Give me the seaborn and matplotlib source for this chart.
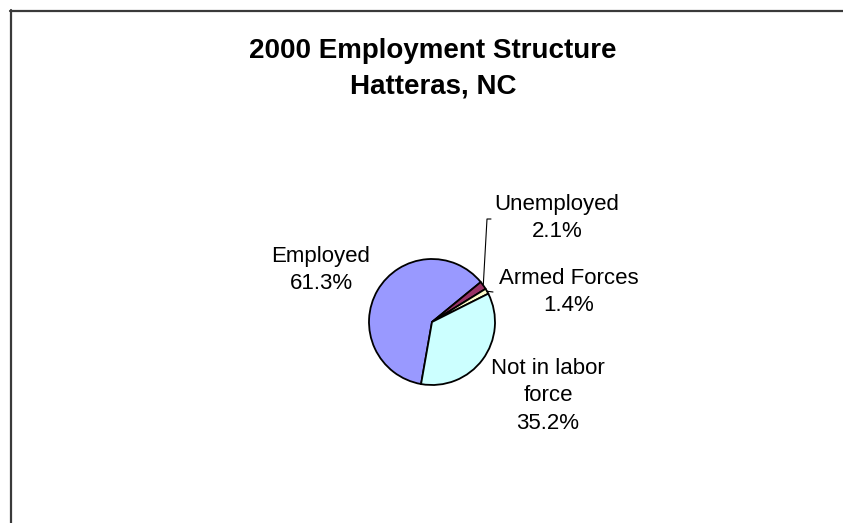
import matplotlib
matplotlib.use("Agg")
import matplotlib.pyplot as plt
from matplotlib.lines import Line2D
import numpy as np
import seaborn as sns

# Employment structure, Hatteras NC, 2000 census
categories = ["Employed", "Unemployed", "Armed Forces", "Not in labor force"]
label_texts = ["Employed", "Unemployed", "Armed Forces", "Not in labor\nforce"]
shares = [61.3, 2.1, 1.4, 35.2]
slice_colors = ["#9999FF", "#993366", "#FFFFCC", "#CCFFFF"]

W, H = 843, 523
sns.set_theme(style="white")
plt.rcParams["font.family"] = ["Liberation Sans", "DejaVu Sans"]

palette = sns.color_palette(slice_colors)

fig = plt.figure(figsize=(W / 100, H / 100), dpi=100)
fig.patch.set_facecolor("white")
ax = fig.add_axes([0, 0, 1, 1])


def py(y):
    """Convert a top-down pixel row into the axes' bottom-up coordinate."""
    return H - y


cx, cy, r = 432, py(322), 63
wedges, _ = ax.pie(
    shares,
    colors=palette,
    startangle=-100,
    counterclock=False,
    radius=r,
    center=(cx, cy),
    wedgeprops=dict(edgecolor="black", linewidth=1.3),
)
ax.set_xlim(0, W)
ax.set_ylim(0, H)
ax.set_aspect("equal")
ax.axis("off")


def edge_point(w):
    mid = np.deg2rad((w.theta1 + w.theta2) / 2)
    return cx + r * np.cos(mid), cy + r * np.sin(mid)


# data labels: name plus percentage
label_pos = [(321, 246), (557, 194), (569, 268), (548, 358)]
for txt, val, (lx, ly) in zip(label_texts, shares, label_pos):
    ax.text(lx, py(ly), f"{txt}\n{val:.1f}%", ha="center", va="top",
            fontsize=16, color="black", linespacing=1.4)

# leader lines for the two thin slices
ex, ey = edge_point(wedges[1])
ax.add_line(Line2D([ex, 487, 491], [ey, py(219), py(219)], color="black", lw=0.8))
ex, ey = edge_point(wedges[2])
ax.add_line(Line2D([ex, 493], [ey, py(292)], color="black", lw=0.8))

fig.text(433 / W, 1 - 38 / H, "2000 Employment Structure\nHatteras, NC",
         ha="center", va="top", fontsize=20, fontweight="bold", color="black",
         linespacing=1.45)

# chart area frame (top and left edges visible)
fig.add_artist(Line2D([10 / W, 1], [1 - 11 / H, 1 - 11 / H], transform=fig.transFigure,
                      color="#3a3a3a", lw=1.6))
fig.add_artist(Line2D([11 / W, 11 / W], [1 - 10 / H, 0], transform=fig.transFigure,
                      color="#3a3a3a", lw=1.6))

fig.savefig("out.png", dpi=100, facecolor="white")
